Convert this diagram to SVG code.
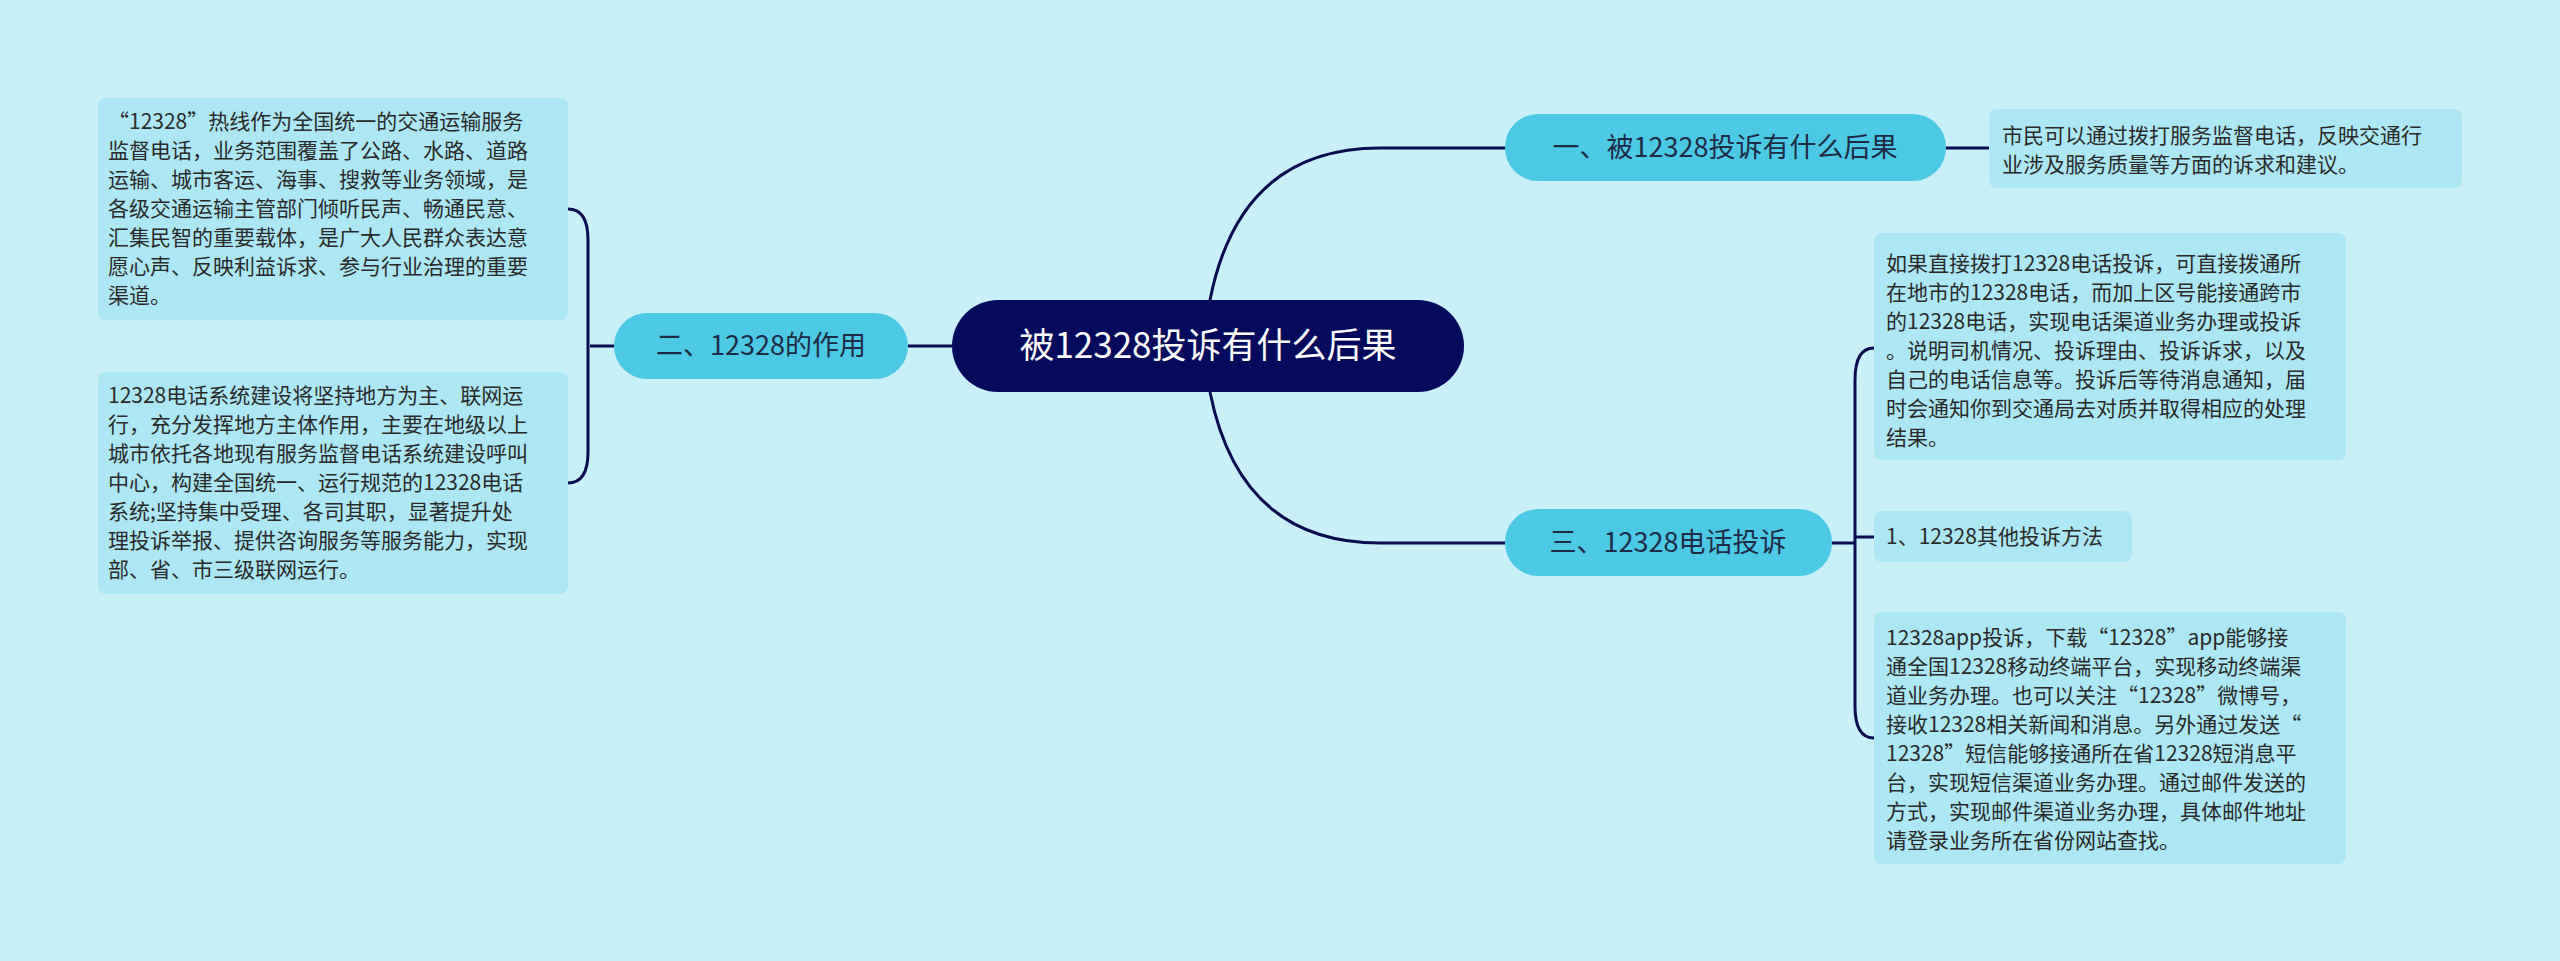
<svg xmlns="http://www.w3.org/2000/svg" width="2560" height="961" viewBox="0 0 2560 961">
<style>
.bx{fill:#ade7f3}
.nd{fill:#4cc9e4}
.t{font-family:"Noto Sans CJK SC","Noto Sans",sans-serif;font-size:21px;fill:#2a2a2a}
.n{font-family:"Noto Sans CJK SC","Noto Sans",sans-serif;font-size:27px;fill:#1f2a44}
.c{fill:none;stroke:#0b0b50;stroke-width:3}
</style>
<rect width="2560" height="961" fill="#c9eff7"/>
<g id="connectors">
<path class="c" d="M952 346H908"/>
<path class="c" d="M614 346H590"/>
<path class="c" d="M568 209Q588 209 588 240V452Q588 483 568 483"/>
<path class="c" d="M1210 300Q1240 148 1380 148H1505"/>
<path class="c" d="M1210 392Q1240 543 1380 543H1505"/>
<path class="c" d="M1946 148H1989"/>
<path class="c" d="M1832 543H1855"/>
<path class="c" d="M1874 348Q1855 348 1855 380V706Q1855 738 1874 738"/>
<path class="c" d="M1855 537H1874"/>
</g>
<g id="root"><rect x="952" y="300" width="512" height="92" rx="46" fill="#060a5c"/>
<text x="1208" y="358" text-anchor="middle" font-family="Noto Sans CJK SC,sans-serif" font-size="35" fill="#ffffff">被12328投诉有什么后果</text></g>
<g id="n2"><rect class="nd" x="614" y="313" width="294" height="66" rx="33"/><text class="n" x="761" y="355" text-anchor="middle">二、12328的作用</text></g>
<g id="n1"><rect class="nd" x="1505" y="114" width="441" height="67" rx="33"/><text class="n" x="1725" y="157" text-anchor="middle">一、被12328投诉有什么后果</text></g>
<g id="n3"><rect class="nd" x="1505" y="509" width="327" height="67" rx="33"/><text class="n" x="1668" y="552" text-anchor="middle">三、12328电话投诉</text></g>
<g id="b21"><rect class="bx" x="98" y="98" width="470" height="222" rx="8"/>
<text class="t"><tspan x="108" y="129">“12328”热线作为全国统一的交通运输服务</tspan><tspan x="108" y="158">监督电话，业务范围覆盖了公路、水路、道路</tspan><tspan x="108" y="187">运输、城市客运、海事、搜救等业务领域，是</tspan><tspan x="108" y="216">各级交通运输主管部门倾听民声、畅通民意、</tspan><tspan x="108" y="245">汇集民智的重要载体，是广大人民群众表达意</tspan><tspan x="108" y="274">愿心声、反映利益诉求、参与行业治理的重要</tspan><tspan x="108" y="303">渠道。</tspan></text></g>
<g id="b22"><rect class="bx" x="98" y="372" width="470" height="222" rx="8"/>
<text class="t"><tspan x="108" y="403">12328电话系统建设将坚持地方为主、联网运</tspan><tspan x="108" y="432">行，充分发挥地方主体作用，主要在地级以上</tspan><tspan x="108" y="461">城市依托各地现有服务监督电话系统建设呼叫</tspan><tspan x="108" y="490">中心，构建全国统一、运行规范的12328电话</tspan><tspan x="108" y="519">系统;坚持集中受理、各司其职，显著提升处</tspan><tspan x="108" y="548">理投诉举报、提供咨询服务等服务能力，实现</tspan><tspan x="108" y="577">部、省、市三级联网运行。</tspan></text></g>
<g id="b11"><rect class="bx" x="1989" y="109" width="473" height="79" rx="8"/>
<text class="t"><tspan x="2002" y="143">市民可以通过拨打服务监督电话，反映交通行</tspan><tspan x="2002" y="172">业涉及服务质量等方面的诉求和建议。</tspan></text></g>
<g id="b31"><rect class="bx" x="1874" y="233" width="472" height="227" rx="8"/>
<text class="t"><tspan x="1886" y="271">如果直接拨打12328电话投诉，可直接拨通所</tspan><tspan x="1886" y="300">在地市的12328电话，而加上区号能接通跨市</tspan><tspan x="1886" y="329">的12328电话，实现电话渠道业务办理或投诉</tspan><tspan x="1886" y="358">。说明司机情况、投诉理由、投诉诉求，以及</tspan><tspan x="1886" y="387">自己的电话信息等。投诉后等待消息通知，届</tspan><tspan x="1886" y="416">时会通知你到交通局去对质并取得相应的处理</tspan><tspan x="1886" y="445">结果。</tspan></text></g>
<g id="b32"><rect class="bx" x="1874" y="511" width="258" height="51" rx="8"/>
<text class="t" x="1886" y="544">1、12328其他投诉方法</text></g>
<g id="b33"><rect class="bx" x="1874" y="612" width="472" height="252" rx="8"/>
<text class="t"><tspan x="1886" y="645">12328app投诉，下载“12328”app能够接</tspan><tspan x="1886" y="674">通全国12328移动终端平台，实现移动终端渠</tspan><tspan x="1886" y="703">道业务办理。也可以关注“12328”微博号，</tspan><tspan x="1886" y="732">接收12328相关新闻和消息。另外通过发送“</tspan><tspan x="1886" y="761">12328”短信能够接通所在省12328短消息平</tspan><tspan x="1886" y="790">台，实现短信渠道业务办理。通过邮件发送的</tspan><tspan x="1886" y="819">方式，实现邮件渠道业务办理，具体邮件地址</tspan><tspan x="1886" y="848">请登录业务所在省份网站查找。</tspan></text></g>
</svg>
